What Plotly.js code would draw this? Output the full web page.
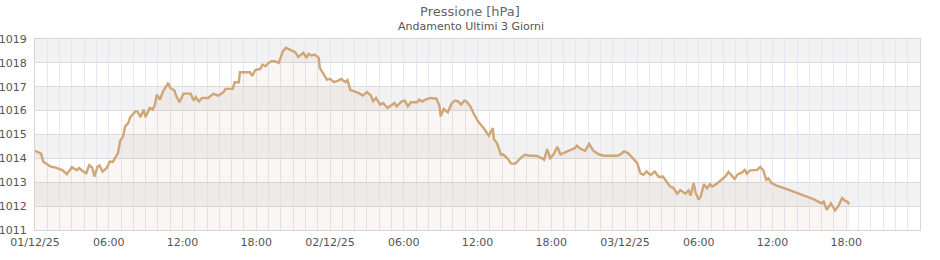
<!DOCTYPE html>
<html>
<head>
<meta charset="utf-8">
<script src="https://cdn.plot.ly/plotly-3.0.1.min.js"></script>
<style>html,body{margin:0;padding:0;background:#fff;}#chart{width:940px;height:260px;}</style>
</head>
<body>
<div id="chart"></div>
<script>
// Pressure readings (hPa), day / time
const day1Times = ["00:00","00:30","00:40","01:15","01:45","02:15","02:35","03:00","03:25","03:35","03:55","04:10","04:25","04:40","04:50","05:05","05:15","05:30","05:50","06:05","06:20","06:35","06:45","06:55","07:10","07:20","07:35","07:45","08:10","08:20","08:35","08:50","09:00","09:20","09:35","09:45","09:55","10:10","10:25","10:40","10:50","11:00","11:20","11:30","11:45","12:05","12:40","12:55","13:05","13:20","13:35","14:05","14:30","14:55","15:20","15:30","16:05","16:15","16:35","16:40","17:30","17:40","17:55","18:20","18:30","18:45","19:00","19:15","19:30","19:50","20:00","20:10","20:25","20:45","21:10","21:25","21:50","22:05","22:15","22:30","22:45","23:05","23:10","23:25","23:45"];
const day1Values = [1014.32,1014.2,1013.87,1013.66,1013.6,1013.5,1013.34,1013.63,1013.5,1013.6,1013.45,1013.38,1013.72,1013.6,1013.24,1013.65,1013.7,1013.45,1013.6,1013.87,1013.85,1014.08,1014.22,1014.72,1014.92,1015.34,1015.48,1015.73,1015.97,1015.97,1015.73,1016.04,1015.73,1016.11,1016.04,1016.25,1016.67,1016.46,1016.81,1017.02,1017.16,1016.95,1016.85,1016.6,1016.35,1016.71,1016.71,1016.42,1016.57,1016.38,1016.53,1016.53,1016.7,1016.63,1016.77,1016.91,1016.91,1017.19,1017.19,1017.61,1017.61,1017.45,1017.7,1017.75,1017.93,1017.86,1018.0,1018.07,1018.07,1018.0,1018.21,1018.49,1018.63,1018.56,1018.45,1018.25,1018.42,1018.21,1018.38,1018.31,1018.35,1018.21,1017.79,1017.58,1017.3];

const day2Times = ["00:00","00:20","00:40","00:55","01:15","01:25","01:40","02:00","02:25","02:40","03:00","03:20","03:30","03:45","04:05","04:20","04:40","05:00","05:15","05:25","05:50","06:05","06:20","06:35","07:05","07:15","07:30","07:45","08:10","08:40","08:55","09:00","09:15","09:35","09:55","10:10","10:25","10:40","10:55","11:05","11:25","11:40","12:05","12:30","12:55","13:15","13:20","13:35","13:55","14:05","14:25","14:45","15:05","15:30","15:50","16:10","16:50","17:15","17:25","17:40","17:55","18:10","18:30","18:45","19:05","19:30","19:55","20:05","20:25","20:45","21:05","21:25","21:50","22:15","23:20","23:35","23:55"];
const day2Values = [1017.33,1017.19,1017.26,1017.33,1017.19,1017.28,1016.85,1016.81,1016.71,1016.63,1016.78,1016.63,1016.39,1016.53,1016.25,1016.32,1016.11,1016.25,1016.32,1016.18,1016.39,1016.42,1016.18,1016.35,1016.35,1016.46,1016.38,1016.46,1016.53,1016.5,1016.18,1015.76,1016.07,1015.93,1016.32,1016.42,1016.39,1016.25,1016.42,1016.39,1016.18,1015.9,1015.52,1015.27,1014.95,1015.27,1014.81,1014.64,1014.15,1014.17,1014.01,1013.78,1013.78,1014.01,1014.15,1014.12,1014.1,1014.0,1013.94,1014.39,1014.01,1014.15,1014.48,1014.17,1014.25,1014.36,1014.43,1014.53,1014.39,1014.32,1014.61,1014.32,1014.18,1014.11,1014.11,1014.15,1014.29];

const day3Times = ["00:15","00:40","01:00","01:15","01:30","01:45","02:05","02:25","02:45","03:05","03:25","03:40","03:55","04:15","04:30","04:55","05:10","05:20","05:35","05:45","06:00","06:10","06:25","06:40","06:55","07:05","07:25","07:45","08:10","08:25","08:35","08:55","09:10","09:30","09:45","09:55","10:10","10:45","11:00","11:15","11:30","11:40","11:55","12:20","13:10","14:15","15:20","16:00","16:10","16:25","16:45","17:05","17:20","17:40","17:55","18:05","18:15"];
const day3Values = [1014.22,1014.01,1013.8,1013.38,1013.31,1013.45,1013.31,1013.45,1013.22,1013.24,1013.0,1012.82,1012.78,1012.52,1012.67,1012.52,1012.66,1012.44,1012.97,1012.55,1012.27,1012.41,1012.92,1012.75,1012.92,1012.82,1012.92,1013.08,1013.24,1013.43,1013.33,1013.14,1013.33,1013.4,1013.52,1013.36,1013.5,1013.52,1013.64,1013.5,1013.1,1013.17,1012.97,1012.86,1012.71,1012.5,1012.29,1012.12,1012.19,1011.84,1012.12,1011.82,1011.98,1012.34,1012.22,1012.19,1012.08];

const dayDates = ["2025-12-01","2025-12-02","2025-12-03"];
const yTicks = [1011,1012,1013,1014,1015,1016,1017,1018,1019];
const shadedBands = [[1012,1013],[1014,1015],[1016,1017],[1018,1019]];
const xRange = ["2025-12-01 00:00","2025-12-04 00:00"];
const chartTitle = "Pressione [hPa]";
const chartSubtitle = "Andamento Ultimi 3 Giorni";

const x = [], y = [];
[[day1Times,day1Values],[day2Times,day2Values],[day3Times,day3Values]].forEach((d,i)=>{
  d[0].forEach((t,j)=>{ x.push(dayDates[i]+" "+t); y.push(d[1][j]); });
});

// 6-hour tick labels: date at midnight, time otherwise
const tickvals = [], ticktext = [];
const start = new Date(2025,11,1,0,0);
for (let h = 0; h < 72; h += 6) {
  const d = new Date(start.getTime() + h*3600000);
  const p = n => String(n).padStart(2,'0');
  tickvals.push(`${d.getFullYear()}-${p(d.getMonth()+1)}-${p(d.getDate())} ${p(d.getHours())}:00`);
  ticktext.push(d.getHours()===0 ? `${p(d.getDate())}/${p(d.getMonth()+1)}/${String(d.getFullYear()).slice(2)}` : `${p(d.getHours())}:00`);
}

const trace = {
  x: x, y: y, type: 'scatter', mode: 'lines',
  line: {color: '#cfa676', width: 2.4},
  fill: 'tozeroy', fillcolor: 'rgba(205,160,120,0.09)',
  hoverinfo: 'x+y'
};

const shapes = shadedBands.map(b => ({
  type: 'rect', xref: 'paper', yref: 'y', x0: 0, x1: 1, y0: b[0], y1: b[1],
  fillcolor: '#f2f2f3', line: {width: 0}, layer: 'below'
}));

const layout = {
  width: 940, height: 260,
  margin: {l: 35, r: 20, t: 39, b: 30},
  paper_bgcolor: '#ffffff', plot_bgcolor: '#ffffff',
  font: {family: 'DejaVu Sans, sans-serif', size: 11, color: '#555'},
  title: {text: chartTitle, font: {size: 13, color: '#666'}, x: 0.5, xanchor: 'center', y: 0.955, yanchor: 'middle', yref: 'container'},
  annotations: [{text: chartSubtitle, xref: 'paper', yref: 'paper', x: 0.493, y: 1, yanchor: 'bottom', yshift: 4, showarrow: false, font: {size: 11, color: '#555'}}],
  showlegend: false,
  shapes: shapes,
  xaxis: {
    type: 'date', range: xRange,
    tickvals: tickvals, ticktext: ticktext, ticks: '', ticklabelstandoff: 2,
    showgrid: true, gridcolor: '#e6e6f6', gridwidth: 1,
    minor: {dtick: 3600000, showgrid: true, gridcolor: '#e6e6f6', gridwidth: 1},
    showline: true, linecolor: '#d6d6d6', linewidth: 1, mirror: true,
    zeroline: false, tickfont: {size: 11, color: '#555'}, automargin: false
  },
  yaxis: {
    range: [1011, 1019], tickvals: yTicks, ticks: '', ticklabelstandoff: 5,
    showgrid: true, gridcolor: '#dcdcdc', gridwidth: 1,
    showline: true, linecolor: '#d6d6d6', linewidth: 1, mirror: true,
    zeroline: false, tickfont: {size: 11, color: '#555'}, automargin: false
  }
};

Plotly.newPlot('chart', [trace], layout, {displayModeBar: false, staticPlot: true});
</script>
</body>
</html>
